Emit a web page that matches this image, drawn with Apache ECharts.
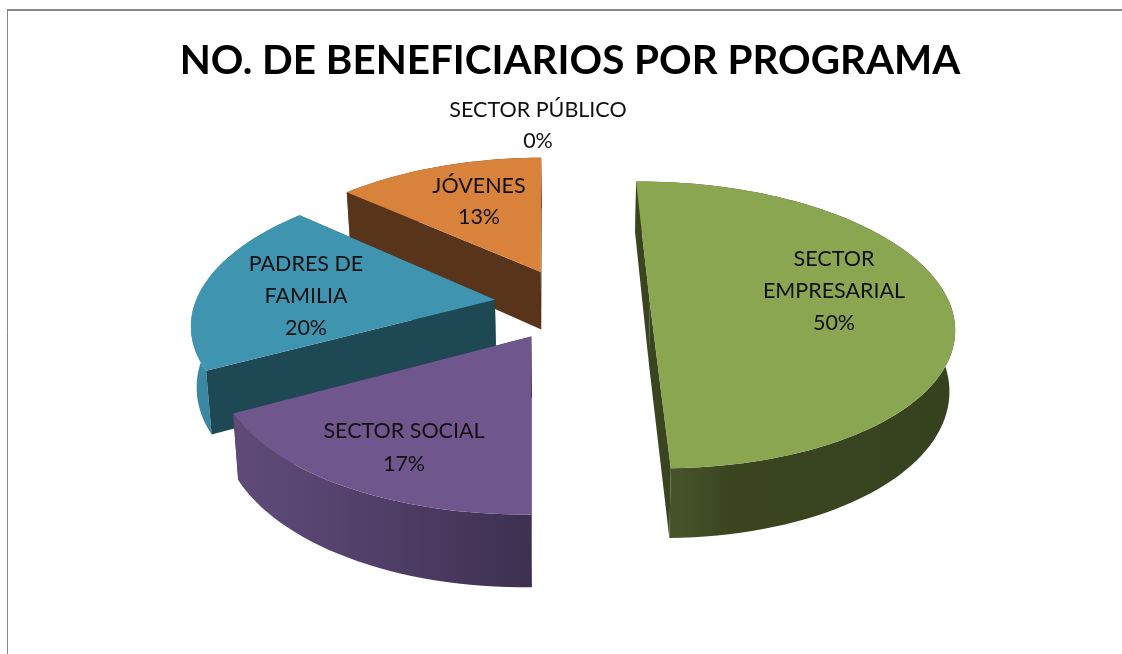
<!DOCTYPE html>
<html>
<head>
<meta charset="utf-8">
<script src="https://cdn.jsdelivr.net/npm/echarts@6/dist/echarts.min.js"></script>
<style>
html, body { margin: 0; padding: 0; background: #fff; }
#chart { width: 1122px; height: 654px; }
</style>
</head>
<body>
<div id="chart"></div>
<script>
// Data; the labels show them rounded
var categories = ['SECTOR\nEMPRESARIAL', 'SECTOR SOCIAL', 'PADRES DE\nFAMILIA', 'JÓVENES', 'SECTOR PÚBLICO'];
var values = [49.9, 17.45, 19.5, 13.15, 0];
// Colours per slice
var topColors = ['#8aa650', '#6f568c', '#3f95b0', '#d9823c', '#a0a0a0'];
var cutColors = ['#3a4420', '#3f3150', '#1f4855', '#57341a', '#a0a0a0'];
var wallLeft = ['#505e30', '#5f4a78', '#3d8aa5', '#8a5226', '#a0a0a0'];
var wallMid = ['#3a4520', '#574470', '#3a84a0', '#6a3f1e', '#a0a0a0'];
var wallRight = ['#36411e', '#3d3050', '#2c6a80', '#57341a', '#a0a0a0'];
// Label centres in px, same order as categories
var labelX = [834, 404, 306, 479, 538];
var labelY = [291, 448, 296, 202, 126];
var labelLine = [32, 33, 32, 31, 31];

// Fake 3D camera, fitted by eye
var cx = 572, cy = 304;
var rx = 300, ry = 140.3;
var persp = 0.15;	// far side shrinks, near side grows
var explode = 0.26;
var thick = 59.5;
var bottomShrink = 0.985;
var startAngle = -0.8;
var font = 'Lato';

var total = 0;
for (let i = 0; i < values.length; i++) total += values[i];
var slices = [];
var cum = startAngle;
for (let i = 0; i < values.length; i++) {
	let span = values[i] / total * 360;
	slices[i] = { from: cum, to: cum + span, mid: cum + span / 2 };
	cum += span;
}

function Rad(d) { return d * Math.PI / 180; }
function Project(wx, wz, bottom) {	// wx right, wz to the back, 1 = pie radius
	let s = 1 / (1 + persp * wz);
	let x = rx * wx * s;
	let y = cy - ry * wz * s;
	if (bottom) {
		x *= bottomShrink;
		y += thick * s;
	}
	return [cx + x, y];
}
function SlicePoint(sl, r, deg, bottom) {
	let wx = explode * Math.sin(Rad(sl.mid)) + r * Math.sin(Rad(deg));
	let wz = explode * Math.cos(Rad(sl.mid)) + r * Math.cos(Rad(deg));
	return Project(wx, wz, bottom);
}
function Arc(sl, bottom) {
	let pts = [];
	let n = Math.max(2, Math.ceil((sl.to - sl.from) / 2));
	for (let k = 0; k <= n; k++) {
		pts.push(SlicePoint(sl, 1, sl.from + (sl.to - sl.from) * k / n, bottom));
	}
	return pts;
}
function CutFace(sl, deg, color) {
	return {
		type: 'polygon',
		shape: { points: [SlicePoint(sl, 0, deg, false), SlicePoint(sl, 1, deg, false), SlicePoint(sl, 1, deg, true), SlicePoint(sl, 0, deg, true)] },
		style: { fill: color }
	};
}
function RenderSlice(params, api) {
	let i = api.value(0);
	let sl = slices[i];
	let children = [];
	if (values[i] > 0) {
		let topArc = Arc(sl, false);
		let wall = topArc.concat(Arc(sl, true).reverse());
		children.push(CutFace(sl, sl.to, cutColors[i]));
		children.push({
			type: 'polygon',
			shape: { points: wall },
			style: {
				fill: new echarts.graphic.LinearGradient(0, 0, 1, 0, [
					{ offset: 0, color: wallLeft[i] },
					{ offset: 0.3, color: wallMid[i] },
					{ offset: 1, color: wallRight[i] }
				])
			}
		});
		children.push(CutFace(sl, sl.from, cutColors[i]));
		children.push({
			type: 'polygon',
			shape: { points: [SlicePoint(sl, 0, sl.from, false)].concat(topArc) },
			style: { fill: topColors[i] }
		});
	}
	children.push({
		type: 'text',
		style: {
			text: categories[i] + '\n' + Math.round(values[i] / total * 100) + '%',
			x: labelX[i],
			y: labelY[i],
			align: 'center',
			verticalAlign: 'middle',
			fontFamily: font,
			fontSize: 21.5,
			lineHeight: labelLine[i],
			fill: '#111'
		}
	});
	return { type: 'group', children: children };
}

// painted back to front
var drawOrder = [];
for (let i = values.length - 1; i >= 0; i--) drawOrder.push([i]);

var chart = echarts.init(document.getElementById('chart'), '', { renderer: 'canvas' });
chart.setOption({
	animation: false,
	backgroundColor: '#fff',
	title: {
		text: 'NO. DE BENEFICIARIOS POR PROGRAMA',
		left: 565,
		top: 36,
		textAlign: 'center',
		textStyle: { fontFamily: font, fontSize: 40.4, fontWeight: 'bold', color: '#000' }
	},
	graphic: [
		{ type: 'line', shape: { x1: 7, y1: 10, x2: 1122, y2: 10 }, style: { stroke: '#868686', lineWidth: 2 } },
		{ type: 'line', shape: { x1: 7.5, y1: 9, x2: 7.5, y2: 654 }, style: { stroke: '#868686', lineWidth: 1 } }
	],
	series: [{
		type: 'custom',
		coordinateSystem: 'none',
		renderItem: RenderSlice,
		data: drawOrder
	}]
});
</script>
</body>
</html>
